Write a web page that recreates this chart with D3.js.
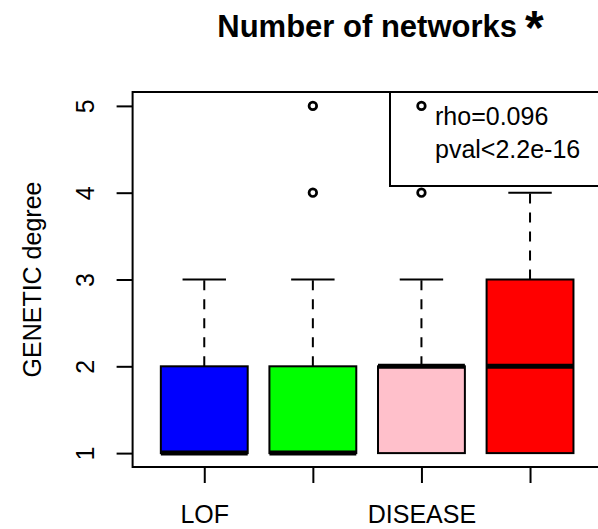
<!DOCTYPE html>
<html>
<head>
<meta charset="utf-8">
<script src="https://cdn.jsdelivr.net/npm/d3@7"></script>
<style>
  html, body { margin: 0; padding: 0; background: #fff; }
  svg { display: block; font-family: "Liberation Sans", Arial, sans-serif; }
</style>
</head>
<body>
<svg id="chart" width="598" height="529"></svg>
<script>
// Box statistics per group (GENETIC degree)
const tickLabels   = ["LOF", "", "DISEASE", ""];
const boxColors    = ["#0000ff", "#00ff00", "#ffc0cb", "#ff0000"];
const whiskerLow   = [1, 1, 1, 1];
const q1           = [1, 1, 1, 1];
const median       = [1, 1, 2, 2];
const q3           = [2, 2, 2, 3];
const whiskerHigh  = [3, 3, 3, 4];
const outliers     = [[], [4, 5], [4, 5], []];
const yTicks       = [1, 2, 3, 4, 5];
const legendLines  = ["rho=0.096", "pval<2.2e-16"];

const svg = d3.select("#chart");

const plot = { left: 132.6, right: 601.7, top: 92, bottom: 467 };

const x = d3.scaleLinear().domain([0.34, 4.66]).range([plot.left, plot.right]);
const y = d3.scaleLinear().domain([0.84, 5.16]).range([plot.bottom, plot.top]);

const groups = tickLabels.map((label, i) => ({
  i, label, fill: boxColors[i],
  lo: whiskerLow[i], q1: q1[i], med: median[i], q3: q3[i], hi: whiskerHigh[i],
  out: outliers[i]
}));

const halfBox = x(1.4) - x(1);
const halfCap = halfBox / 2;

const g = svg.append("g");
groups.forEach(d => {
  const cx = x(d.i + 1);
  // dashed whiskers
  [[d.q3, d.hi], [d.q1, d.lo]].forEach(([a, b]) => {
    g.append("line").attr("x1", cx).attr("x2", cx)
      .attr("y1", y(a)).attr("y2", y(b))
      .attr("stroke", "#000").attr("stroke-width", 2).attr("stroke-dasharray", "10,9");
  });
  // whisker caps
  [d.hi, d.lo].forEach(v => {
    g.append("line").attr("x1", cx - halfCap).attr("x2", cx + halfCap)
      .attr("y1", y(v)).attr("y2", y(v))
      .attr("stroke", "#000").attr("stroke-width", 2);
  });
  // box
  g.append("rect")
    .attr("x", cx - halfBox).attr("width", 2 * halfBox)
    .attr("y", y(d.q3)).attr("height", y(d.q1) - y(d.q3))
    .attr("fill", d.fill).attr("stroke", "#000").attr("stroke-width", 2);
  // median
  g.append("line").attr("x1", cx - halfBox).attr("x2", cx + halfBox)
    .attr("y1", y(d.med)).attr("y2", y(d.med))
    .attr("stroke", "#000").attr("stroke-width", 5);
  // outliers
  d.out.forEach(v => {
    g.append("circle").attr("cx", cx).attr("cy", y(v)).attr("r", 3.8)
      .attr("fill", "none").attr("stroke", "#000").attr("stroke-width", 2.7);
  });
});

// frame
svg.append("rect")
  .attr("x", plot.left).attr("y", plot.top)
  .attr("width", plot.right - plot.left).attr("height", plot.bottom - plot.top)
  .attr("fill", "none").attr("stroke", "#000").attr("stroke-width", 2);

// y axis
const yAxis = d3.axisLeft(y).tickValues(yTicks).tickSize(16).tickPadding(0).tickFormat(d3.format("d"));
const ya = svg.append("g").attr("transform", `translate(${plot.left},0)`).call(yAxis);
ya.select(".domain").remove();
ya.selectAll(".tick line").attr("stroke-width", 2);
ya.selectAll(".tick text")
  .attr("x", null).attr("dy", null)
  .attr("transform", "translate(-39,0) rotate(-90)")
  .attr("text-anchor", "middle")
  .attr("font-size", 25).attr("fill", "#000")
  .attr("font-family", "Liberation Sans, Arial, sans-serif");

// x axis
const xAxis = d3.axisBottom(x).tickValues([1, 2, 3, 4]).tickSize(16)
  .tickFormat((d, i) => tickLabels[i]);
const xa = svg.append("g").attr("transform", `translate(0,${plot.bottom})`).call(xAxis);
xa.select(".domain").remove();
xa.selectAll(".tick line").attr("stroke-width", 2);
xa.selectAll(".tick text")
  .attr("y", 56).attr("dy", null)
  .attr("font-size", 25).attr("fill", "#000")
  .attr("font-family", "Liberation Sans, Arial, sans-serif");

// y axis title
svg.append("text")
  .attr("transform", `translate(41,${(plot.top + plot.bottom) / 2}) rotate(-90)`)
  .attr("text-anchor", "middle").attr("font-size", 25)
  .text("GENETIC degree");

// title
const titleX = (plot.left + plot.right) / 2;
svg.append("text")
  .attr("x", titleX).attr("y", 37)
  .attr("text-anchor", "middle").attr("font-size", 31).attr("font-weight", "bold")
  .text("Number of networks");
svg.append("text")
  .attr("x", 525).attr("y", 44)
  .attr("font-size", 48).attr("font-weight", "bold")
  .text("*");

// legend
svg.append("rect")
  .attr("x", 390).attr("y", plot.top)
  .attr("width", plot.right - 390).attr("height", 186 - plot.top)
  .attr("fill", "none").attr("stroke", "#000").attr("stroke-width", 2);
legendLines.forEach((t, i) => {
  svg.append("text").attr("x", 435).attr("y", 125 + i * 33)
    .attr("font-size", 25).text(t);
});
</script>
</body>
</html>
